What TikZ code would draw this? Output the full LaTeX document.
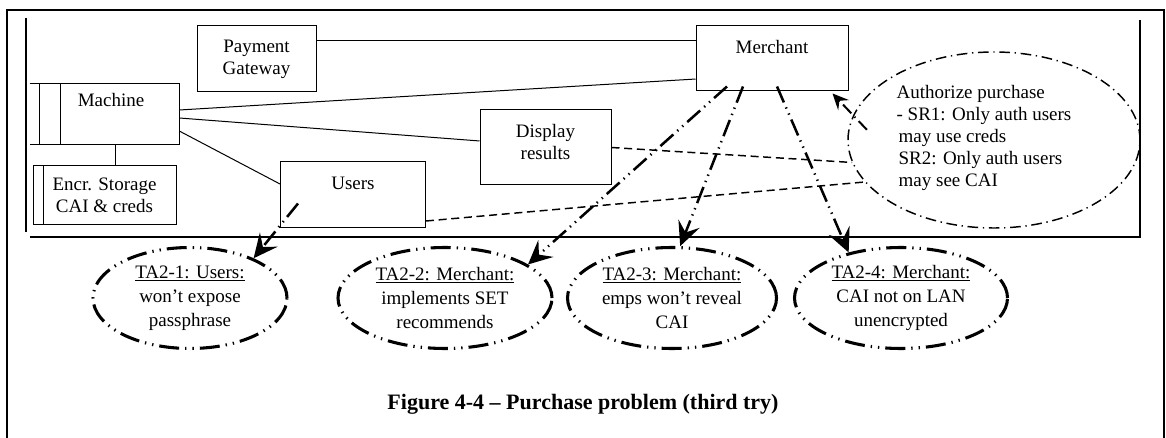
\documentclass[tikz,border=0pt]{standalone}
\usepackage{fontspec}
\setmainfont{Liberation Serif}
\usetikzlibrary{shapes.geometric, arrows.meta}

\begin{document}
\begin{tikzpicture}[x=0.75pt, y=-0.75pt,
    every node/.style={font=\fontsize{14.25}{16.5}\selectfont, inner sep=0pt},
    box/.style={draw, rectangle, line width=0.75pt, align=center},
    threat/.style={draw, ellipse, line width=2.3pt, align=center,
        font=\fontsize{14.25}{18}\selectfont,
        dash pattern=on 15pt off 4.5pt on 1pt off 4.5pt on 1pt off 4.5pt},
    srgoal/.style={draw, ellipse, line width=1.1pt,
        dash pattern=on 8pt off 3.5pt on 1pt off 3.5pt},
    link/.style={line width=0.75pt},
    dashlink/.style={line width=1.1pt, dash pattern=on 6pt off 3.5pt},
    attack/.style={line width=1.9pt,
        dash pattern=on 13pt off 4pt on 1pt off 4pt on 1pt off 4pt,
        -{Stealth[length=18pt, width=17pt, inset=7pt]}},
    authlink/.style={line width=1.5pt,
        dash pattern=on 9pt off 3.5pt on 1pt off 3.5pt,
        -{Stealth[length=12pt, width=11pt, inset=4.5pt]}}]

    \useasboundingbox (0,0) rectangle (1166,438);

    % frames
    \draw[line width=1.5pt] (7,438) -- (7,10) -- (1164,10) -- (1164,438);
    \draw[line width=1pt] (26,18) -- (26,232);
    \draw[line width=1pt] (30,237) -- (1140,237) -- (1140,20);

    % components
    \node[box, minimum width=89.25pt, minimum height=49.5pt] (pay) at (256.5, 59) {Payment\\Gateway};
    \node[box, minimum width=114pt, minimum height=48.75pt, text depth=18pt] (merchant) at (772, 58.5) {Merchant};
    \node[minimum width=111.75pt, minimum height=45pt] (machine) at (104.5, 114) {};
    \node (machinetxt) at (111, 100.5) {Machine};
    \node[box, minimum width=107.25pt, minimum height=44.25pt] (encr) at (104.5, 195.5) {Encr. Storage\\CAI \& creds};
    \node[box, minimum width=108.75pt, minimum height=49.5pt, text depth=17.25pt] (users) at (353, 195) {Users};
    \node[box, minimum width=98.25pt, minimum height=56.25pt, text depth=9pt] (display) at (545.5, 147.5) {Display\\results};

    % data store outlines
    \draw[link] (machine.north west) -- (machine.north east) -- (machine.south east) -- (machine.south west);
    \draw[link] ([xshift=7.5pt]machine.north west) -- ([xshift=7.5pt]machine.south west);
    \draw[link] ([xshift=23.25pt]machine.north west) -- ([xshift=23.25pt]machine.south west);
    \draw[link] ([xshift=8.25pt]encr.north west) -- ([xshift=8.25pt]encr.south west);

    % security requirement
    \node[srgoal, minimum width=219pt, minimum height=132pt] (srell) at (994, 140) {};
    \node[align=left] (srtext) at (984, 138) {Authorize purchase\\- SR1: Only auth users\\\hspace*{1.5pt}may use creds\\\hspace*{1.5pt}SR2: Only auth users\\\hspace*{1.5pt}may see CAI};

    % trust assumptions
    \node[threat, minimum width=145.5pt, minimum height=75.75pt] (ta1) at (190, 298) {\underline{TA2-1: Users:}\\won’t expose\\passphrase};
    \node[threat, minimum width=160.5pt, minimum height=75.75pt] (ta2) at (445, 298) {\underline{TA2-2: Merchant:}\\implements SET\\recommends};
    \node[threat, minimum width=156.75pt, minimum height=75.75pt] (ta3) at (672, 298) {\underline{TA2-3: Merchant:}\\emps won’t reveal\\CAI};
    \node[threat, minimum width=159.75pt, minimum height=75.75pt] (ta4) at (901, 298) {\underline{TA2-4: Merchant:}\\CAI not on LAN\\unencrypted};

    % connections
    \draw[link] ([yshift=13.5pt]pay.east) -- ([yshift=13.5pt]pay.east -| merchant.west);
    \draw[link] ([yshift=3pt]machine.east) -- ([yshift=-15.4pt]merchant.west);
    \draw[link] ([yshift=-3pt]machine.east) -- ([yshift=4.9pt]display.west);
    \draw[link] ([yshift=-12.75pt]machine.east) -- ([yshift=8.25pt]users.west);
    \draw[link] ([xshift=7.9pt]machine.south) -- ([xshift=7.9pt]machine.south |- encr.north);

    \draw[dashlink] (display.east) -- (srell.189);
    \draw[dashlink] ([yshift=-19.5pt]users.east) -- (srell.198);
    \draw[authlink] ([xshift=14pt]srell.176) -- ([xshift=-12pt, yshift=-1.5pt]merchant.south east);

    \draw[attack] ([xshift=13.5pt, yshift=18.75pt]users.south west) -- (ta1.32);
    \draw[attack] ([xshift=-33.75pt, yshift=3.75pt]merchant.south) -- (ta2.22);
    \draw[attack] ([xshift=-21.75pt, yshift=3.75pt]merchant.south) -- (ta3.81);
    \draw[attack] ([xshift=3.75pt, yshift=3.75pt]merchant.south) -- (ta4.139);

    \node[font=\bfseries\fontsize{16.5}{19}\selectfont] (caption) at (583, 404) {Figure 4-4 – Purchase problem (third try)};
\end{tikzpicture}
\end{document}
